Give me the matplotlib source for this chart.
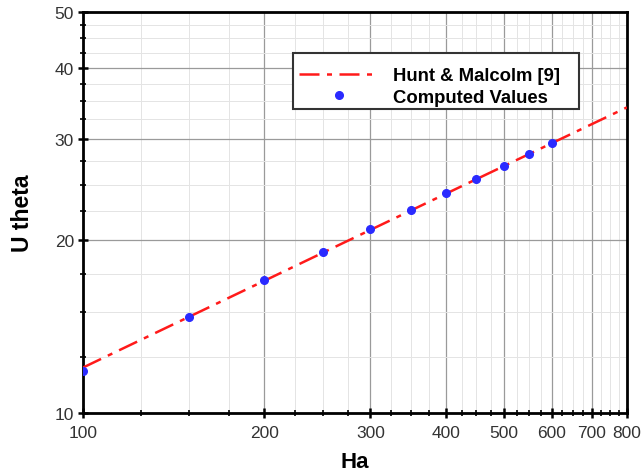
import numpy as np
import matplotlib.pyplot as plt
from matplotlib.patches import Rectangle
from matplotlib.ticker import FixedLocator, NullFormatter

plt.rcParams['font.family'] = ['Liberation Sans', 'DejaVu Sans']

# Hunt & Malcolm [9] correlation (straight line on log-log axes)
hunt_ha = [100, 200, 400, 800]
hunt_u = [12.0, 17.0, 24.1, 34.1]

# Computed values
ha = [100, 150, 200, 250, 300, 350, 400, 450, 500, 550, 600]
u_theta = [11.85, 14.7, 17.03, 19.06, 20.93, 22.59, 24.15, 25.58, 26.98, 28.28, 29.55]

x_major = [100, 200, 300, 400, 500, 600, 700, 800]
y_major = [10, 20, 30, 40, 50]

fig = plt.figure(figsize=(6.42, 4.77), dpi=100)
ax = fig.add_axes([0.1293, 0.1321, 0.8473, 0.8406])

ax.plot(hunt_ha, hunt_u, color='#ff1a1a', linestyle=(0, (8, 3, 2, 3)),
        linewidth=1.8, label='Hunt & Malcolm [9]', zorder=3)
ax.plot(ha, u_theta, linestyle='none', marker='o', markersize=5.5,
        color='#2a2aff', label='Computed Values', zorder=4)

ax.set_xscale('log')
ax.set_yscale('log')
ax.set_xlim(100, 800)
ax.set_ylim(10, 50)

ax.xaxis.set_major_locator(FixedLocator(x_major))
ax.xaxis.set_minor_locator(FixedLocator(np.arange(125, 800, 25)))
ax.yaxis.set_major_locator(FixedLocator(y_major))
ax.yaxis.set_minor_locator(FixedLocator(np.arange(12.5, 50, 2.5)))
ax.set_xticklabels([str(v) for v in x_major])
ax.set_yticklabels([str(v) for v in y_major])
ax.xaxis.set_minor_formatter(NullFormatter())
ax.yaxis.set_minor_formatter(NullFormatter())

ax.grid(which='major', color='#9a9a9a', linewidth=0.9)
ax.grid(which='minor', color='#e4e4e4', linewidth=0.7)
ax.set_axisbelow(True)

for s in ax.spines.values():
    s.set_linewidth(2)
ax.tick_params(which='major', direction='inout', length=7, width=1.8,
               labelsize=12.5, labelcolor='#333333')
ax.tick_params(which='minor', direction='inout', length=5, width=1.2)
ax.tick_params(axis='x', pad=5)
ax.tick_params(axis='y', pad=3)

ax.set_xlabel('Ha', fontsize=16, fontweight='bold', labelpad=8)
ax.set_ylabel('U theta', fontsize=16.5, fontweight='bold')
ax.yaxis.set_label_coords(-0.09, 0.5)

# legend box drawn separately so the right padding matches the original
ax.add_patch(Rectangle((0.386, 0.758), 0.526, 0.14, transform=ax.transAxes,
                       facecolor='white', edgecolor='#333333', linewidth=1.5,
                       zorder=5))
leg = ax.legend(loc='upper left', bbox_to_anchor=(0.386, 0.879), frameon=False,
                prop={'weight': 'bold', 'size': 13.3}, handlelength=4.3,
                borderpad=0.35, borderaxespad=0, labelspacing=0.26,
                handletextpad=0.75)
leg.set_zorder(6)

fig.savefig('out.png', dpi=100)
